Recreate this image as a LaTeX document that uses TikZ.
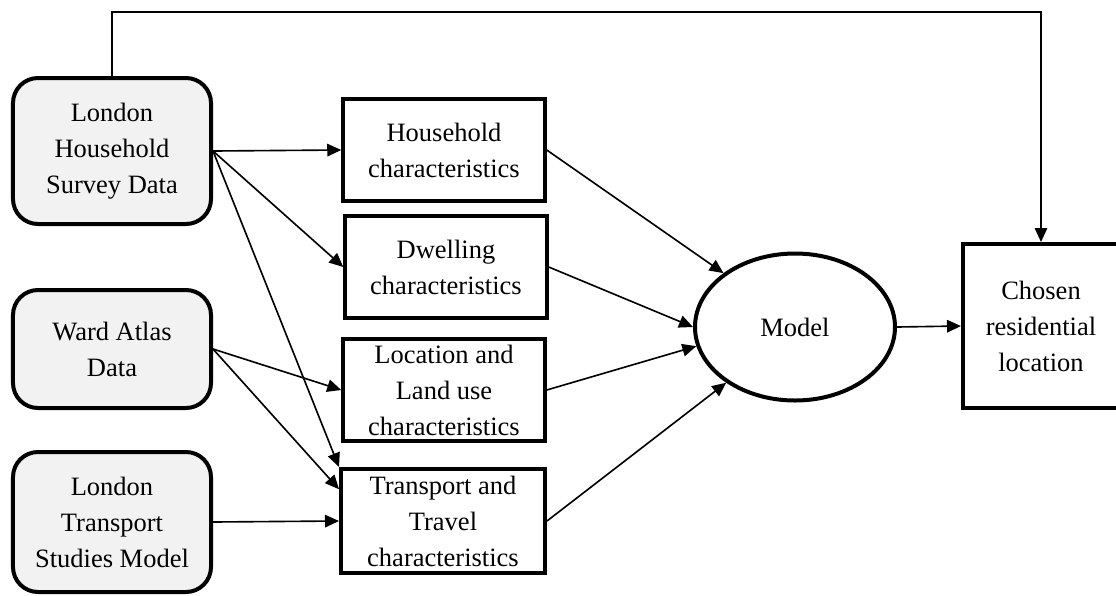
\documentclass[tikz,border=0pt]{standalone}
\usepackage{fontspec}
\setmainfont{Liberation Serif}
\usetikzlibrary{arrows.meta,shapes.geometric}
\definecolor{srcfill}{HTML}{F2F2F2}
\tikzset{>={Triangle[length=5.6pt,width=5pt]},
  every node/.style={font=\fontsize{10.6}{14.4}\selectfont,align=center,inner sep=0pt},
  source/.style={draw,line width=1.6pt,rounded corners=10pt,fill=srcfill,minimum width=79.2pt},
  factor/.style={draw,line width=1.6pt,minimum width=80.6pt,minimum height=40.8pt},
  link/.style={->,line width=.65pt}}

\begin{document}
\begin{tikzpicture}[x=.4pt,y=-.4pt]
\useasboundingbox (0,0) rectangle (1116,595);
% data sources
\node[source,minimum height=58.4pt] (lhs) at (112,151) {London\\Household\\Survey Data};
\node[source,minimum height=47.2pt] (wad) at (112,349) {Ward Atlas\\Data};
\node[source,minimum height=56pt] (lts) at (112,522) {London\\Transport\\Studies Model};
% characteristics
\node[factor] (hh) at (444,150) {Household\\characteristics};
\node[factor] (dw) at (446,267) {Dwelling\\characteristics};
\node[factor] (lo) at (444,390) {Location and\\Land use\\characteristics};
\node[factor,minimum width=81.6pt,minimum height=41.6pt] (tr) at (443,521) {Transport and\\Travel\\characteristics};
% model and outcome (box runs past the right margin)
\node[draw,ellipse,line width=1.6pt,minimum width=80pt,minimum height=58.8pt] (mod) at (795,327) {Model};
\node[factor,minimum width=62.4pt,minimum height=65.6pt] (cho) at (1041,326) {Chosen\\residential\\location};
\coordinate (top) at (0,12);
\draw[link] (lhs.east)--(hh.west);\draw[link] (lhs.east)--(dw.west);\draw[link] (lhs.east)--(tr.north west);
\draw[link] (wad.east)--(lo.west);\draw[link] (wad.east)--(tr.163);
\draw[link] (lts.east)--(tr.west);
\draw[link] (hh.east)--(mod.143);\draw[link] (dw.east)--(mod.west);
\draw[link] (lo.east)--(mod.191);\draw[link] (tr.east)--(mod.219);
\draw[link] (mod.east)--(cho.west);
\draw[link] (lhs.north)--(lhs.north |- top)--(top -| cho.north)--(cho.north);
\end{tikzpicture}
\end{document}
